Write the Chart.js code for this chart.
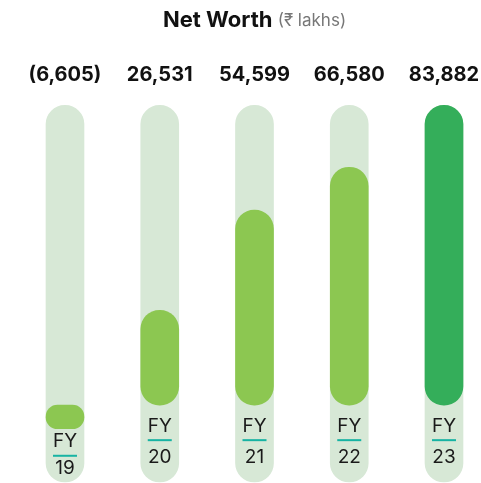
<!DOCTYPE html>
<html>
<head>
<meta charset="utf-8">
<script src="https://cdn.jsdelivr.net/npm/chart.js@4.4.0/dist/chart.umd.min.js"></script>
<style>
  html, body { margin: 0; padding: 0; background: #fff; }
  #wrap { width: 481px; height: 483px; }
</style>
</head>
<body>
<div id="wrap"><canvas id="canvas"></canvas></div>
<script>
// data
var years = ["19", "20", "21", "22", "23"];
var netWorth = [-6605, 26531, 54599, 66580, 83882];
var valueLabels = ["(6,605)", "26,531", "54,599", "66,580", "83,882"];
var barColors = ["#8cc751", "#8cc751", "#8cc751", "#8cc751", "#34ae5a"];
var trackRange = [-21500, 83882];

var FONT = "Inter, 'Open Sans', sans-serif";

var track = years.map(function() { return trackRange; });

var labelsPlugin = {
	id: 'fyLabels',
	afterDatasetsDraw: function(chart) {
		var ctx = chart.ctx;
		var meta = chart.getDatasetMeta(0);
		var xs = chart.scales.x;
		ctx.save();
		// title
		var mid = (xs.getPixelForValue(0) + xs.getPixelForValue(years.length - 1)) / 2;
		ctx.textBaseline = 'middle';
		var t1 = "Net Worth ";
		var t2 = "(\u20b9 lakhs)";
		ctx.font = "17px " + FONT;
		var w2 = ctx.measureText(t2).width;
		ctx.font = "bold 22px " + FONT;
		var w1 = ctx.measureText(t1).width;
		var x0 = mid - (w1 + w2) / 2;
		ctx.textAlign = 'left';
		ctx.fillStyle = '#111';
		ctx.fillText(t1, x0, 20);
		ctx.font = "17px " + FONT;
		ctx.fillStyle = '#777';
		ctx.fillText(t2, x0 + w1, 21);

		meta.data.forEach(function(bar, i) {
			var x = bar.x;
			// value on top
			ctx.textAlign = 'center';
			ctx.fillStyle = '#111';
			ctx.font = "bold 20px " + FONT;
			ctx.fillText(valueLabels[i], x, 75);
			// FY label under the bar (tighter when the bar dips below zero)
			var bottom = Math.max(bar.y, bar.base);
			var neg = netWorth[i] < 0;
			var gFY = neg ? 13 : 21, gLine = neg ? 26 : 34, gYear = neg ? 40 : 52;
			ctx.font = "19px " + FONT;
			ctx.fillStyle = '#1a1a1a';
			ctx.fillText("FY", x, bottom + gFY);
			ctx.fillStyle = '#17b3a3';
			ctx.fillRect(x - 12, bottom + gLine, 24, 2);
			ctx.fillStyle = '#1a1a1a';
			ctx.fillText(years[i], x, bottom + gYear);
		});
		ctx.restore();
	}
};

new Chart(document.getElementById("canvas"), {
	type: 'bar',
	data: {
		labels: years.map(function(y) { return "FY" + y; }),
		datasets: [
			{
				label: 'Net Worth',
				data: netWorth,
				backgroundColor: barColors,
				borderRadius: 19,
				borderSkipped: false,
				barThickness: 38,
				grouped: false,
				clip: false,
				order: 0
			},
			{
				label: 'track',
				data: track,
				backgroundColor: '#d7e8d6',
				borderRadius: 19,
				borderSkipped: false,
				barThickness: 38,
				grouped: false,
				clip: false,
				order: 1
			}
		]
	},
	options: {
		responsive: true,
		maintainAspectRatio: false,
		animation: false,
		layout: {
			padding: { left: 65, right: 37, top: 105, bottom: 1 }
		},
		plugins: {
			legend: { display: false },
			tooltip: { enabled: false },
			title: { display: false }
		},
		scales: {
			x: {
				display: false,
				offset: false
			},
			y: {
				display: false,
				min: -21500,
				max: 84000
			}
		}
	},
	plugins: [labelsPlugin]
});
</script>
</body>
</html>
